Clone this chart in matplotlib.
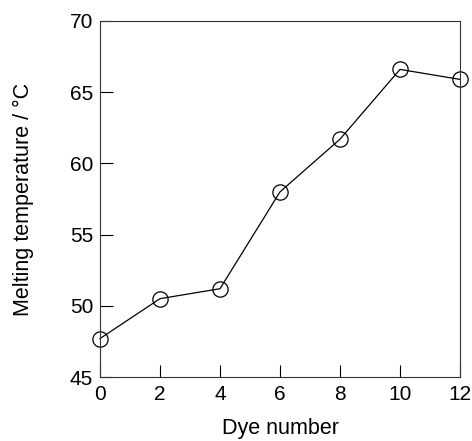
import matplotlib
matplotlib.use('Agg')
import matplotlib.pyplot as plt

plt.rcParams['font.family'] = ['Liberation Sans', 'DejaVu Sans']

dye = [0, 2, 4, 6, 8, 10, 12]
tm = [47.7, 50.5, 51.2, 58.0, 61.7, 66.6, 65.9]

fig = plt.figure(figsize=(4.72, 4.41), dpi=100)
ax = fig.add_axes([100 / 472, 64 / 441, 360 / 472, 356 / 441])

ax.plot(dye, tm, color='black', lw=0.9, marker='o', ms=11,
        mfc='none', mec='black', mew=0.9, clip_on=False)

ax.set_xlim(0, 12)
ax.set_ylim(45, 70)
ax.set_xticks(range(0, 13, 2))
ax.set_yticks(range(45, 71, 5))
ax.tick_params(direction='in', length=9, width=0.8, labelsize=15)
ax.tick_params(axis='x', pad=6)
ax.tick_params(axis='y', pad=5)
for s in ax.spines.values():
    s.set_linewidth(0.8)
    s.set_color('#333333')

ax.set_xlabel('Dye number', fontsize=15.5, labelpad=10)
ax.set_ylabel('Melting temperature / \u00b0C', fontsize=15.5, labelpad=26)

fig.savefig('out.png', dpi=100)
